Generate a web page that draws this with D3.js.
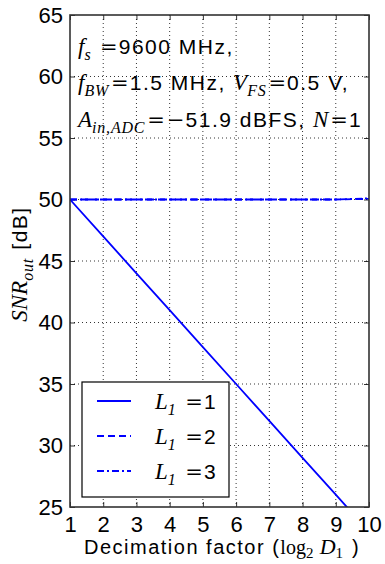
<!DOCTYPE html>
<html>
<head>
<meta charset="utf-8">
<script src="https://cdn.jsdelivr.net/npm/d3@7"></script>
<style>
  body { margin: 0; background: #fff; }
  svg { display: block; }
  .tick text { font-family: "Liberation Sans", Arial, sans-serif; font-size: 22px; fill: #000; }
</style>
</head>
<body>
<div id="chart"></div>
<script>
// decimation factor log2(D1)
var xVals = [1, 2, 3, 4, 5, 6, 7, 8, 9, 10];
// SNR_out [dB] for each L1
var snrL1_1 = [50, 47, 44, 41, 38, 35, 32, 29, 26, 23];
var snrL1_2 = [50, 50, 50, 50, 50, 50, 50, 50, 50, 50.05];
var snrL1_3 = [50, 50, 50, 50, 50, 50, 50, 50, 50, 50.1];
var xTicks = [1, 2, 3, 4, 5, 6, 7, 8, 9, 10];
var yTicks = [25, 30, 35, 40, 45, 50, 55, 60, 65];
var legendNames = ["1", "2", "3"];

var W = 385, H = 564;
var m = {left: 70, right: 16, top: 15, bottom: 57};
var iw = W - m.left - m.right, ih = H - m.top - m.bottom;

var svg = d3.select("#chart").append("svg").attr("width", W).attr("height", H);
var g = svg.append("g").attr("transform", "translate(" + m.left + "," + m.top + ")");

var x = d3.scaleLinear().domain([1, 10]).range([0, iw]);
var y = d3.scaleLinear().domain([25, 65]).range([ih, 0]);

// writes mixed math / roman runs into a text element
// kinds: it = italic math, sub = subscript, eq = equals sign, rm = roman text, up = upright math
var SANS = "Liberation Sans, Arial, sans-serif", SERIF = "Liberation Serif, serif";
function mathText(sel, parts, size, subDrop) {
  var low = 0, drop = subDrop || 6;
  parts.forEach(function(p) {
    var k = p[0], s = p[1], ts = sel.append("tspan");
    var dy = 0;
    if (k == "sub") { dy = drop - low; low = drop; } else { dy = -low; low = 0; }
    if (dy) ts.attr("dy", dy);
    if (k == "it") ts.attr("font-family", SERIF).attr("font-style", "italic").attr("font-size", size + 2);
    if (k == "sub") ts.attr("font-family", SERIF).attr("font-style", p[2] ? "normal" : "italic")
      .attr("font-size", size - 5).attr("letter-spacing", 0.8);
    if (k == "eq") ts.attr("font-family", "DejaVu Serif, serif").attr("font-size", size).attr("dx", 2);
    if (k == "rm") ts.attr("font-family", SANS).attr("font-size", size).attr("letter-spacing", 1.5).attr("dx", p[2] || 1);
    if (k == "up") ts.attr("font-family", SERIF).attr("font-size", size);
    ts.text(s);
  });
}

// grid
g.append("g").selectAll("line").data(xTicks.slice(1, -1)).enter().append("line")
  .attr("x1", d => x(d)).attr("x2", d => x(d)).attr("y1", 0).attr("y2", ih)
  .attr("stroke", "#000").attr("stroke-width", 0.8).attr("stroke-dasharray", "1,3");
g.append("g").selectAll("line").data(yTicks.slice(1, -1)).enter().append("line")
  .attr("y1", d => y(d)).attr("y2", d => y(d)).attr("x1", 0).attr("x2", iw)
  .attr("stroke", "#000").attr("stroke-width", 0.8).attr("stroke-dasharray", "1,3");

// axes (inward ticks on all sides)
var axB = g.append("g").attr("transform", "translate(0," + ih + ")")
  .call(d3.axisBottom(x).tickValues(xTicks).tickSizeInner(-5).tickSizeOuter(0).tickPadding(9));
var axT = g.append("g").call(d3.axisTop(x).tickValues(xTicks).tickSizeInner(-5).tickSizeOuter(0).tickFormat(""));
var axL = g.append("g")
  .call(d3.axisLeft(y).tickValues(yTicks).tickSizeInner(-5).tickSizeOuter(0).tickPadding(7));
var axR = g.append("g").attr("transform", "translate(" + iw + ",0)")
  .call(d3.axisRight(y).tickValues(yTicks).tickSizeInner(-5).tickSizeOuter(0).tickFormat(""));
[axB, axT, axL, axR].forEach(function(a) {
  a.select(".domain").remove();
  a.selectAll(".tick line").attr("stroke", "#000").attr("stroke-width", 0.8);
});
axB.selectAll(".tick text").attr("dy", "0.71em");

// clip
svg.append("defs").append("clipPath").attr("id", "clip")
  .append("rect").attr("width", iw).attr("height", ih);

var line = d3.line().x((d, i) => x(xVals[i])).y(d => y(d));
var series = [
  {v: snrL1_1, dash: null},
  {v: snrL1_2, dash: "7,4"},
  {v: snrL1_3, dash: "7,3,2,3"}
];
var plot = g.append("g").attr("clip-path", "url(#clip)");
series.forEach(function(s) {
  plot.append("path").datum(s.v).attr("d", line)
    .attr("fill", "none").attr("stroke", "#0000ff").attr("stroke-width", 1.8)
    .attr("stroke-dasharray", s.dash);
});

// frame
g.append("rect").attr("width", iw).attr("height", ih)
  .attr("fill", "none").attr("stroke", "#333").attr("stroke-width", 1.6);

// annotation
var ann = g.append("text").attr("fill", "#000");
mathText(ann.append("tspan").attr("x", 8).attr("y", 39),
  [["it", "f"], ["sub", "s"], ["eq", " ="], ["rm", "9600 MHz,"]], 21);
mathText(ann.append("tspan").attr("x", 8).attr("y", 75),
  [["it", "f"], ["sub", "BW"], ["eq", "="], ["rm", "1.5 MHz, "], ["it", " V"], ["sub", "FS"], ["eq", "="], ["rm", "0.5 V,"]], 21);
mathText(ann.append("tspan").attr("x", 8).attr("y", 112),
  [["it", "A"], ["sub", "in,ADC"], ["eq", "="], ["eq", "\u2212"], ["rm", "51.9 dBFS, ", 1], ["it", "N"], ["eq", "="], ["rm", "1"]], 21);

// legend
var lg = g.append("g").attr("transform", "translate(12,367)");
lg.append("rect").attr("width", 147).attr("height", 115)
  .attr("fill", "#fff").attr("stroke", "#000").attr("stroke-width", 1.2);
series.forEach(function(s, i) {
  var yy = 19 + i * 35;
  lg.append("line").attr("x1", 15).attr("x2", 49).attr("y1", yy).attr("y2", yy)
    .attr("stroke", "#0000ff").attr("stroke-width", 1.8).attr("stroke-dasharray", s.dash);
  var t = lg.append("text").attr("x", 73).attr("y", yy + 8);
  mathText(t, [["it", "L"], ["sub", "1"], ["eq", " ="], ["rm", legendNames[i], 1]], 21);
});

// axis labels
var xl = svg.append("text").attr("x", 83).attr("y", 554);
mathText(xl, [["rm", "Decimation factor (", 0], ["up", "log"], ["sub", "2", 1], ["it", " D"], ["sub", "1", 1], ["rm", " )"]], 20, 4);

var yl = svg.append("text").attr("transform", "translate(27," + (m.top + ih / 2 + 3) + ") rotate(-90)")
  .attr("text-anchor", "middle");
mathText(yl, [["it", "SNR"], ["sub", "out"], ["rm", " [dB]"]], 21);
</script>
</body>
</html>
